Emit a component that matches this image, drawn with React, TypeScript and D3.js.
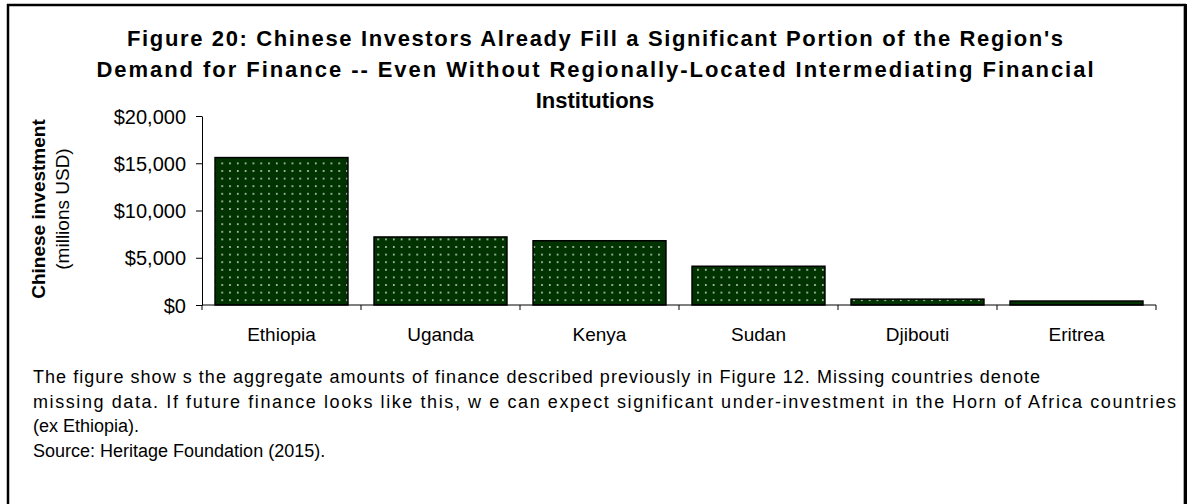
import { useEffect, useRef } from 'react';
import * as d3 from 'd3';

const countries = ['Ethiopia', 'Uganda', 'Kenya', 'Sudan', 'Djibouti', 'Eritrea'];
const investment = [15600, 7200, 6800, 4100, 620, 420];
const yTicks = [0, 5000, 10000, 15000, 20000];

const titleLines = [
  "Figure 20: Chinese Investors Already Fill a Significant Portion of the Region's",
  'Demand for Finance -- Even Without Regionally-Located Intermediating Financial',
  'Institutions',
];
// 两端对齐的行宽（null 表示不拉伸）
const titleWidths = [936, 997, null];
const captionLines = [
  'The figure show s the aggregate amounts of finance described previously in Figure 12. Missing countries denote',
  'missing data. If future finance looks like this, w e can expect significant under-investment in the Horn of Africa countries',
  '(ex Ethiopia).',
  'Source: Heritage Foundation (2015).',
];
const captionWidths = [1007, 1143, null, null];

const FONT = "'Liberation Sans', Arial, Helvetica, sans-serif";

const App = () => {
  const ref = useRef<SVGSVGElement>(null);

  useEffect(() => {
    const W = 1188;
    const H = 504;
    const margin = { top: 116, right: 32, bottom: 199, left: 202 };

    const svg = d3.select(ref.current);
    svg.selectAll('*').remove();
    svg.attr('width', W).attr('height', H);

    // 点阵填充
    const defs = svg.append('defs');
    const pat = defs.append('pattern')
      .attr('id', 'dots')
      .attr('patternUnits', 'userSpaceOnUse')
      .attr('width', 7.8)
      .attr('height', 7.6);
    pat.append('rect').attr('width', 7.8).attr('height', 7.6).attr('fill', '#003300');
    pat.append('rect').attr('x', 3).attr('y', 3).attr('width', 1.6).attr('height', 1.6).attr('fill', '#d8e0d8');

    // 外框
    svg.append('rect').attr('width', W).attr('height', H).attr('fill', '#fff');
    svg.append('line').attr('x1', 8).attr('x2', 8).attr('y1', 4).attr('y2', H).attr('stroke', '#000').attr('stroke-width', 2.5);
    svg.append('line').attr('x1', 7).attr('x2', 1186).attr('y1', 5).attr('y2', 5).attr('stroke', '#000').attr('stroke-width', 2.5);
    svg.append('line').attr('x1', 1185.5).attr('x2', 1185.5).attr('y1', 4).attr('y2', H).attr('stroke', '#000').attr('stroke-width', 3);
    svg.append('line').attr('x1', 1183.5).attr('x2', 1183.5).attr('y1', 6).attr('y2', H).attr('stroke', '#aaa').attr('stroke-width', 1);

    // 标题
    titleLines.forEach((t, i) => {
      const el = svg.append('text')
        .attr('x', 595)
        .attr('y', 46 + i * 31)
        .attr('text-anchor', 'middle')
        .attr('font-family', FONT)
        .attr('font-weight', 'bold')
        .attr('font-size', 22)
        .text(t);
      if (titleWidths[i]) el.attr('textLength', titleWidths[i]!).attr('lengthAdjust', 'spacing');
    });

    const x = d3.scaleBand()
      .domain(countries)
      .range([margin.left, W - margin.right])
      .paddingInner(0.164)
      .paddingOuter(0.082);

    const y = d3.scaleLinear()
      .domain([0, 20000])
      .range([H - margin.bottom, margin.top]);

    // Y轴
    const yAxis = svg.append('g')
      .attr('transform', `translate(${margin.left},0)`)
      .call(d3.axisLeft(y).tickValues(yTicks).tickSize(6).tickSizeOuter(0)
        .tickFormat(d => '$' + d3.format(',')(d as number)));
    yAxis.select('.domain').attr('stroke', '#000');
    yAxis.selectAll('text')
      .attr('font-family', FONT)
      .attr('font-size', 20)
      .attr('fill', '#000')
      .attr('x', -16)
      .attr('dy', '0.36em');

    // 柱子
    svg.append('g')
      .selectAll('rect')
      .data(countries)
      .join('rect')
      .attr('x', d => x(d)!)
      .attr('width', x.bandwidth())
      .attr('y', (d, i) => y(investment[i]))
      .attr('height', (d, i) => y(0) - y(investment[i]))
      .attr('fill', 'url(#dots)')
      .attr('stroke', '#000')
      .attr('stroke-width', 1.5);

    // X轴
    const x0 = margin.left;
    const step = x.step();
    const xAxis = svg.append('g');
    xAxis.append('line')
      .attr('x1', x0).attr('x2', W - margin.right)
      .attr('y1', y(0)).attr('y2', y(0))
      .attr('stroke', '#000');
    xAxis.selectAll('line.tick')
      .data(d3.range(countries.length + 1))
      .join('line')
      .attr('class', 'tick')
      .attr('x1', i => x0 + i * step).attr('x2', i => x0 + i * step)
      .attr('y1', y(0)).attr('y2', y(0) + 5)
      .attr('stroke', '#000');
    xAxis.selectAll('text')
      .data(countries)
      .join('text')
      .attr('x', d => x(d)! + x.bandwidth() / 2)
      .attr('y', y(0) + 36)
      .attr('text-anchor', 'middle')
      .attr('font-family', FONT)
      .attr('font-size', 19)
      .text(d => d);

    // Y轴标题
    const yTitle = svg.append('text')
      .attr('transform', 'translate(45,209) rotate(-90)')
      .attr('text-anchor', 'middle')
      .attr('font-family', FONT)
      .attr('font-size', 19);
    yTitle.append('tspan').attr('x', 0).attr('y', 0).attr('font-weight', 'bold').text('Chinese investment');
    yTitle.append('tspan').attr('x', 0).attr('y', 24).text('(millions USD)');

    // 说明文字
    captionLines.forEach((t, i) => {
      const el = svg.append('text')
        .attr('x', 33)
        .attr('y', 383 + i * 24.7)
        .attr('font-family', FONT)
        .attr('font-size', 18)
        .text(t);
      if (captionWidths[i]) el.attr('textLength', captionWidths[i]!).attr('lengthAdjust', 'spacing');
    });
  }, []);

  return <svg ref={ref} style={{ position: 'absolute', left: 0, top: 0, display: 'block' }} />;
};

export default App;
